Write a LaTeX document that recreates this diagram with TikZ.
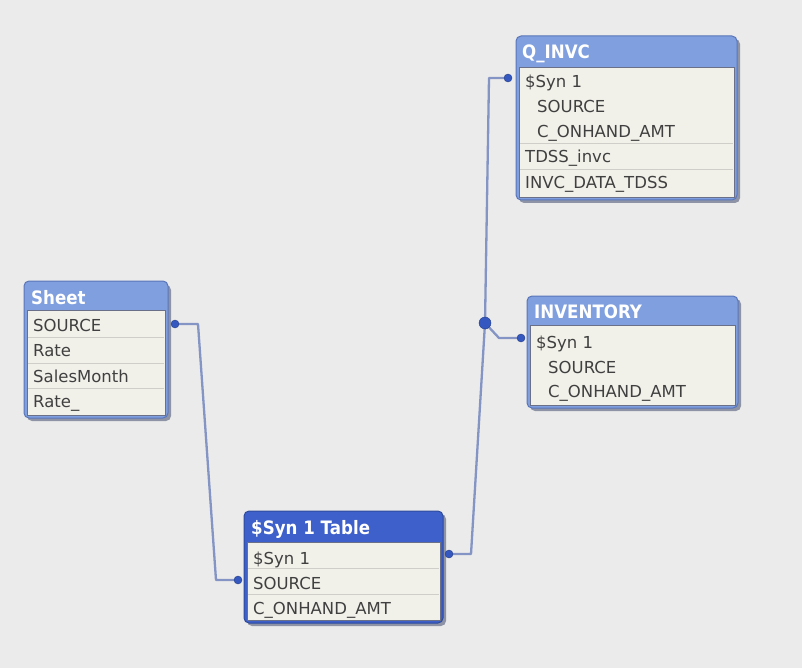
\documentclass[tikz,border=0pt]{standalone}
\usepackage{fontspec}
\setmainfont{DejaVu Sans}
\newfontfamily\titlefont{DejaVu Sans}[FakeStretch=0.9]
\usetikzlibrary{positioning}

\definecolor{bgc}{HTML}{EBEBEB}
\definecolor{hdlight}{HTML}{7F9FDF}
\definecolor{hdedge}{HTML}{5A76B8}
\definecolor{hddark}{HTML}{3D60CA}
\definecolor{hddarkedge}{HTML}{2E4C9E}
\definecolor{bodyc}{HTML}{F1F0E9}
\definecolor{bodyedge}{HTML}{6A7088}
\definecolor{sepc}{HTML}{CFCEC8}
\definecolor{fieldc}{HTML}{404040}
\definecolor{linkc}{HTML}{8494C4}
\definecolor{dotc}{HTML}{3458C0}
\definecolor{shadec}{HTML}{8E94A6}

\pgfdeclarelayer{front}
\pgfsetlayers{main,front}

\begin{document}
\begin{tikzpicture}[x=1pt,y=-1pt,
  frame/.style={fill=hdlight,draw=hdedge,line width=1pt,rounded corners=5pt},
  selframe/.style={frame,fill=hddark,draw=hddarkedge},
  shade/.style={fill=shadec,rounded corners=5pt},
  body/.style={fill=bodyc,draw=bodyedge,line width=0.8pt},
  sep/.style={draw=sepc,line width=1pt},
  field/.style={anchor=west,inner sep=0pt,text height=11pt,text depth=3pt,text=fieldc,font=\fontsize{16.5}{18}\selectfont},
  title/.style={anchor=west,inner sep=0pt,text height=13pt,text depth=3pt,text=white,font=\titlefont\fontsize{18.5}{20}\selectfont\bfseries},
  link/.style={draw=linkc,line width=2.3pt,line join=round},
  dot/.style={circle,fill=dotc,draw=dotc!70!black,line width=0.4pt,inner sep=0pt,minimum size=8pt},
  hub/.style={dot,minimum size=12pt}]

% Canvas
\useasboundingbox (0,0) rectangle (802,668);
\fill[bgc] (0,0) rectangle (802,668);

% Sheet
\fill[shade] (27,285) rectangle (171,421);
\draw[frame] (24,281) rectangle (168,418);
\draw[body] (27,310) rectangle (165,415);
\draw[sep] (28,337) -- (164,337);
\draw[sep] (28,363) -- (164,363);
\draw[sep] (28,388) -- (164,388);
\node[title] (sheet) at (31,299) {Sheet};
\node[field] (shsource) at (33,327) {SOURCE};
\node[field] (shrate) at (33,352) {Rate};
\node[field] (shmonth) at (33,378) {SalesMonth};
\node[field] (shrate2) at (33,403) {Rate\_};

% $Syn 1 Table
\fill[shade] (247,514) rectangle (446,626);
\draw[selframe] (244,511) rectangle (443,623);
\draw[body] (247,542) rectangle (440,620);
\draw[sep] (248,568) -- (439,568);
\draw[sep] (248,594) -- (439,594);
\node[title] (syn) at (251,529) {\$Syn 1 Table};
\node[field] (synkey) at (253,560) {\$Syn 1};
\node[field] (synsource) at (253,585) {SOURCE};
\node[field] (synamt) at (253,610) {C\_ONHAND\_AMT};

% Q_INVC
\fill[shade] (519,39) rectangle (740,203);
\draw[frame] (516,36) rectangle (737,200);
\draw[body] (519,67) rectangle (734,197);
\draw[sep] (520,144) -- (733,144);
\draw[sep] (520,170) -- (733,170);
\node[title] (qinvc) at (522,54) {Q\_INVC};
\node[field] (qkey) at (525,84) {\$Syn 1};
\node[field] (qsource) at (537,109) {SOURCE};
\node[field] (qamt) at (537,134) {C\_ONHAND\_AMT};
\node[field] (qtdss) at (525,159) {TDSS\_invc};
\node[field] (qdata) at (525,185) {INVC\_DATA\_TDSS};

% INVENTORY
\fill[shade] (530,299) rectangle (741,411);
\draw[frame] (527,296) rectangle (738,408);
\draw[body] (530,325) rectangle (735,405);
\node[title] (inv) at (534,313) {INVENTORY};
\node[field] (invkey) at (536,344) {\$Syn 1};
\node[field] (invsource) at (548,369) {SOURCE};
\node[field] (invamt) at (548,393) {C\_ONHAND\_AMT};

% Link points
\begin{pgfonlayer}{front}
\node[dot] (dsheet) at (175,324) {};
\node[dot] (dsynsrc) at (238,580) {};
\node[dot] (dsyn) at (449,554) {};
\node[dot] (dq) at (508,78) {};
\node[dot] (dinv) at (521,338) {};
\node[hub] (hub) at (485,323) {};
\end{pgfonlayer}
\coordinate (b1) at (198,324);
\coordinate (b2) at (216,580);
\coordinate (b3) at (471,554);
\coordinate (b4) at (489,78);
\coordinate (b5) at (499,338);

% Links
\draw[link] (dsheet.center) -- (b1) -- (b2) -- (dsynsrc.center);
\draw[link] (dsyn.center) -- (b3) -- (hub.center) -- (b4) -- (dq.center);
\draw[link] (hub.center) -- (b5) -- (dinv.center);
\end{tikzpicture}
\end{document}
